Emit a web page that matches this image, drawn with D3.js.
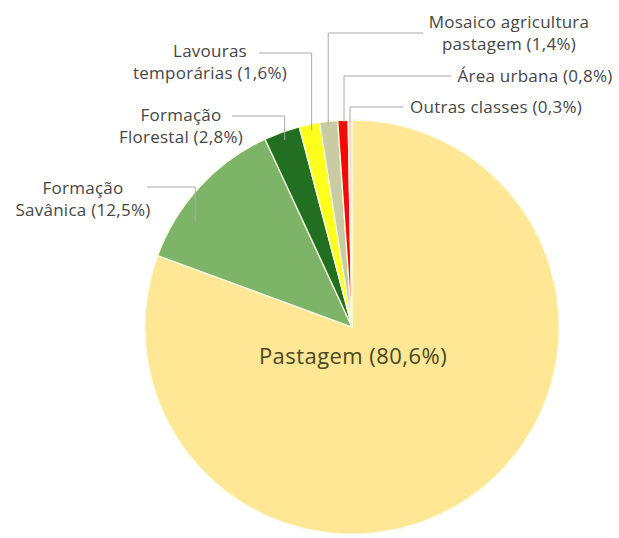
<!DOCTYPE html>
<html>
<head>
<meta charset="utf-8">
<script src="https://cdn.jsdelivr.net/npm/d3@7"></script>
<style>
  html, body { margin: 0; padding: 0; background: #fff; }
  svg { display: block; }
</style>
</head>
<body>
<svg id="chart" width="619" height="538"></svg>
<script>
// ---- data ----
const categories = ["Pastagem", "Formação Savânica", "Formação Florestal", "Lavouras temporárias",
                    "Mosaico agricultura pastagem", "Área urbana", "Outras classes"];
const values = [80.6, 12.5, 2.8, 1.6, 1.4, 0.8, 0.3];
const valueLabels = ["80,6%", "12,5%", "2,8%", "1,6%", "1,4%", "0,8%", "0,3%"];
const labelLines = [
  ["Pastagem (80,6%)"],
  ["Formação", "Savânica (12,5%)"],
  ["Formação", "Florestal (2,8%)"],
  ["Lavouras", "temporárias (1,6%)"],
  ["Mosaico agricultura", "pastagem (1,4%)"],
  ["Área urbana (0,8%)"],
  ["Outras classes (0,3%)"]
];
const colors = ["#ffe795", "#7db468", "#236f22", "#ffff1e", "#c9cba2", "#f50a0a", "#fbd6cc"];

// ---- layout ----
const W = 619, H = 538;
const cx = 352, cy = 327, R = 207;
const svg = d3.select("#chart");
const g = svg.append("g").attr("transform", `translate(${cx},${cy})`);

const data = categories.map((c, i) => ({ name: c, value: values[i], color: colors[i], lines: labelLines[i] }));
const pie = d3.pie().value(d => d.value).sort(null).startAngle(0).endAngle(2 * Math.PI);
const arcs = pie(data);
const arc = d3.arc().innerRadius(0).outerRadius(R);

g.selectAll("path.slice").data(arcs).join("path")
  .attr("class", "slice")
  .attr("d", arc)
  .attr("fill", d => d.data.color)
  .attr("stroke", "#f6fbe2")
  .attr("stroke-width", 1.3);

// label placement (text centre x, first baseline y, leader y, leader start x, anchor fraction, anchor radius factor)
const labelPos = [
  { x: 353, y: 364, fs: 22, ls: 0.45 },
  { x: 83, y: 194, fs: 17, ls: 0.25, ly: 187, lx: 147, af: 0.30, ar: 0.91 },
  { x: 181, y: 121, fs: 17, ls: 0.25, ly: 116, lx: 232, af: 0.5, ar: 0.96 },
  { x: 210, y: 57, fs: 17, ls: 0.25, ly: 53, lx: 259, af: 0.55, ar: 0.97 },
  { x: 509, y: 28, fs: 17, ls: 0.25, ly: 33, lx: 423, af: 0.45, ar: 0.98 },
  { x: 535, y: 82, fs: 17, ls: 0.25, ly: 76, lx: 451, af: 0.6, ar: 0.99 },
  { x: 496, y: 113, fs: 17, ls: 0.25, ly: 107, lx: 403, af: 0.5, ar: 0.99 }
];

const font = "'Open Sans', Lato, sans-serif";
const lineH = 22;

arcs.forEach((a, i) => {
  const p = labelPos[i];
  if (p.ly !== undefined) {
    const ang = a.startAngle + (a.endAngle - a.startAngle) * p.af;
    const ax = cx + Math.sin(ang) * R * p.ar;
    const ay = cy - Math.cos(ang) * R * p.ar;
    svg.append("polyline")
      .attr("points", `${p.lx},${p.ly} ${ax},${p.ly} ${ax},${ay}`)
      .attr("fill", "none")
      .attr("stroke", "#a9a9a9")
      .attr("stroke-width", 1);
  }
  const t = svg.append("text")
    .attr("text-anchor", "middle")
    .attr("font-family", font)
    .attr("font-size", p.fs)
    .attr("letter-spacing", p.ls)
    .attr("fill", i === 0 ? "#4b4722" : "#464646");
  a.data.lines.forEach((ln, k) => {
    t.append("tspan").attr("x", p.x).attr("y", p.y + k * lineH).text(ln);
  });
});
</script>
</body>
</html>
